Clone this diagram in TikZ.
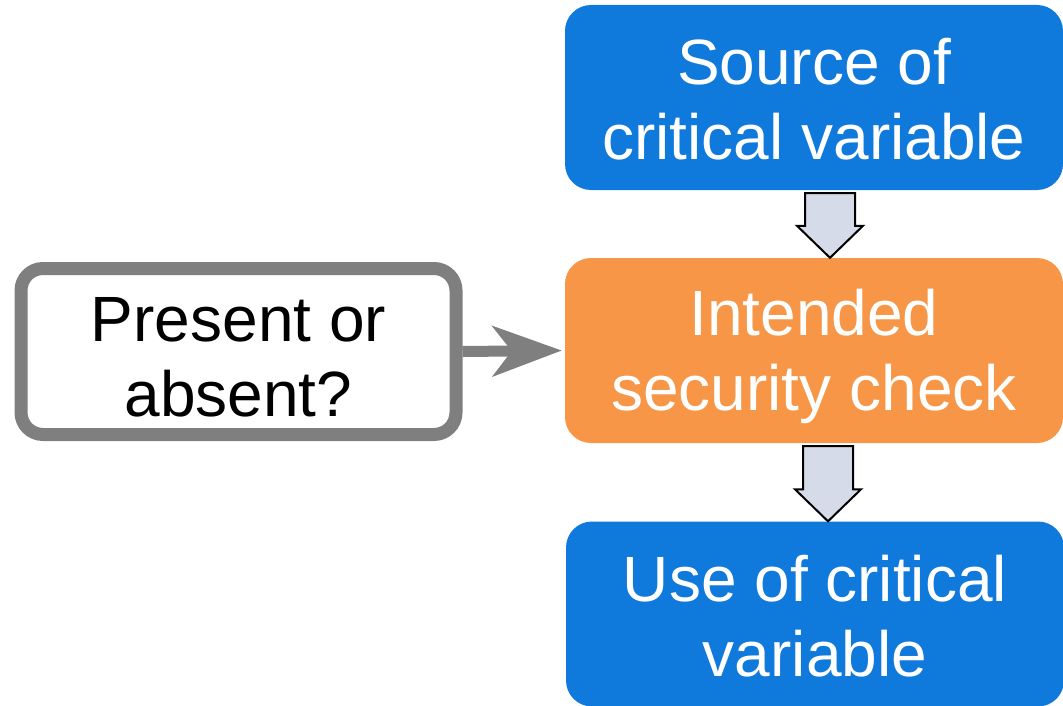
\documentclass[tikz,border=0pt]{standalone}
\usepackage{fontspec}
\setmainfont{Liberation Sans}
\usetikzlibrary{arrows.meta,calc,positioning}

\definecolor{varblue}{HTML}{1079DC}
\definecolor{checkorange}{HTML}{F79646}
\definecolor{askgray}{HTML}{7F7F7F}
\definecolor{arrowfill}{HTML}{D5DBE8}

% hollow down arrow between two stacked boxes, #3 = sideways offset
\newcommand{\blockdown}[3]{%
  \draw [block arrow] let \p1=(#1.south), \p2=(#2.north) in
    (\x1+#3pt-25pt,\y1-3pt) -- (\x1+#3pt+25pt,\y1-3pt)
    -- (\x1+#3pt+25pt,\y2+32pt) -- (\x1+#3pt+33pt,\y2+32pt)
    -- (\x1+#3pt,\y2) -- (\x1+#3pt-33pt,\y2+32pt)
    -- (\x1+#3pt-25pt,\y2+32pt) -- cycle;}
% invisible strut that pushes a two-line label down a little
\newcommand{\toplift}[1]{\rule{0pt}{#1}}

\begin{document}
\begin{tikzpicture}
  [x=1pt,y=-1pt,
   every node/.style={align=center,font=\fontsize{64}{75}\selectfont,inner sep=0pt},
   box/.style={rectangle,rounded corners=26pt,minimum width=498pt,minimum height=185pt},
   var box/.style={box,fill=varblue,text=white},
   check box/.style={box,fill=checkorange,text=white},
   ask box/.style={rectangle,rounded corners=22pt,draw=askgray,line width=13pt,
                   fill=white,minimum width=435pt,minimum height=166pt},
   block arrow/.style={draw=black,line width=2pt,fill=arrowfill,line join=miter},
   ask arrow/.style={draw=askgray,line width=11pt,shorten >=3pt,
                     -{Stealth[length=69pt,width=50pt,inset=19pt]}}]

  \useasboundingbox (0,0) rectangle (1063,706);

  % flow of the variable
  \node [var box]   (src) at (814,97.5)  {\toplift{50pt}Source of\\critical variable};
  \node [check box] (chk) at (814,350.5) {\toplift{58pt}Intended\\security check};
  \node [var box]   (use) at (815,614)   {\toplift{50pt}Use of critical\\variable};

  \blockdown{src}{chk}{16}
  \blockdown{chk}{use}{14}

  % the question on the left
  \node [ask box] (ask) at (238.5,351.5) {\toplift{56pt}Present or\\absent?};
  \draw [ask arrow] (ask.east) -- (chk.west);

\end{tikzpicture}
\end{document}
